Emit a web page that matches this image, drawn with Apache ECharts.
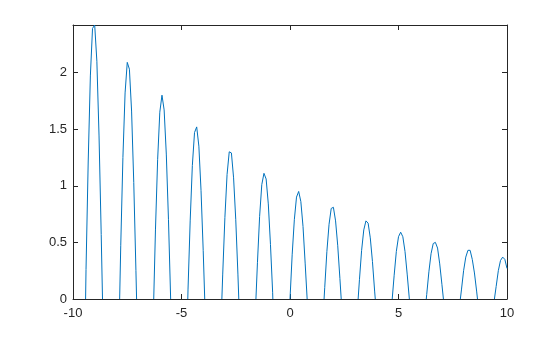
<!DOCTYPE html>
<html>
<head>
<meta charset="utf-8">
<script src="https://cdn.jsdelivr.net/npm/echarts@6/dist/echarts.min.js"></script>
<style>
html,body{margin:0;padding:0;background:#fff;}
#chart{width:560px;height:337px;}
</style>
</head>
<body>
<div id="chart"></div>
<script>
// x positions of samples (null y marks a gap between humps)
var xValues = [
  -9.42,-9.4,-9.3,-9.2,-9.1,-9.0,-8.9,-8.8,-8.7,-8.64, -8.2,
  -7.85,-7.8,-7.7,-7.6,-7.5,-7.4,-7.3,-7.2,-7.1,-7.07, -6.7,
  -6.28,-6.2,-6.1,-6.0,-5.9,-5.8,-5.7,-5.6,-5.5, -5.1,
  -4.71,-4.7,-4.6,-4.5,-4.4,-4.3,-4.2,-4.1,-4.0,-3.93, -3.5,
  -3.14,-3.1,-3.0,-2.9,-2.8,-2.7,-2.6,-2.5,-2.4,-2.36, -2.0,
  -1.57,-1.5,-1.4,-1.3,-1.2,-1.1,-1.0,-0.9,-0.8,-0.79, -0.4,
  0,0.1,0.2,0.3,0.4,0.5,0.6,0.7,0.79, 1.2,
  1.57,1.6,1.7,1.8,1.9,2.0,2.1,2.2,2.3,2.36, 2.7,
  3.14,3.2,3.3,3.4,3.5,3.6,3.7,3.8,3.9,3.93, 4.3,
  4.71,4.8,4.9,5.0,5.1,5.2,5.3,5.4,5.5, 5.9,
  6.28,6.3,6.4,6.5,6.6,6.7,6.8,6.9,7.0,7.07, 7.5,
  7.85,7.9,8.0,8.1,8.2,8.3,8.4,8.5,8.6,8.64, 9.0,
  9.42,9.5,9.6,9.7,9.8,9.9,10.0
];
var yValues = [
  0,0.26,1.21,1.97,2.39,2.42,2.10,1.44,0.57,0, null,
  0,0.47,1.25,1.82,2.09,2.03,1.66,1.03,0.25,0, null,
  0,0.61,1.23,1.65,1.80,1.67,1.28,0.70,0, null,
  0,0.08,0.69,1.18,1.47,1.52,1.35,0.96,0.43,0, null,
  0,0.22,0.72,1.10,1.30,1.29,1.07,0.70,0.22,0, null,
  0,0.32,0.73,1.01,1.11,1.06,0.84,0.48,0.06,0, null,
  0,0.39,0.70,0.90,0.95,0.86,0.64,0.31,0, null,
  0,0.10,0.42,0.66,0.80,0.81,0.69,0.47,0.18,0, null,
  0,0.17,0.43,0.61,0.69,0.67,0.54,0.33,0.07,0, null,
  0,0.21,0.42,0.55,0.59,0.55,0.42,0.22,0, null,
  0,0.04,0.24,0.40,0.49,0.50,0.45,0.31,0.13,0, null,
  0,0.08,0.25,0.37,0.43,0.43,0.35,0.23,0.07,0, null,
  0,0.11,0.25,0.34,0.37,0.35,0.27
];
var xTicks = [-10, -5, 0, 5, 10];
var yTicks = [0, 0.5, 1, 1.5, 2];
var yMax = 2.42;

var seriesData = xValues.map(function (x, i) {
  return [x, yValues[i] === null ? '-' : yValues[i]];
});

var axisCol = '#262626';
var labelFont = {color: axisCol, fontSize: 13, fontFamily: 'Liberation Sans, Arial, sans-serif'};

var chart = echarts.init(document.getElementById('chart'), null, {renderer: 'canvas'});
chart.setOption({
  animation: false,
  backgroundColor: '#fff',
  grid: {left: 73, right: 53, top: 25, bottom: 38, containLabel: false},
  xAxis: [{
    type: 'value', min: xTicks[0], max: xTicks[xTicks.length - 1], interval: 5,
    position: 'bottom',
    axisLine: {onZero: false, lineStyle: {color: axisCol, width: 1}},
    axisTick: {inside: true, length: 5, lineStyle: {color: axisCol}},
    axisLabel: Object.assign({margin: 8, formatter: function (v) { return String(v); }}, labelFont),
    splitLine: {show: false}
  }, {
    type: 'value', min: xTicks[0], max: xTicks[xTicks.length - 1], interval: 5,
    position: 'top',
    axisLine: {onZero: false, lineStyle: {color: axisCol, width: 1}},
    axisTick: {inside: true, length: 5, lineStyle: {color: axisCol}},
    axisLabel: {show: false},
    splitLine: {show: false}
  }],
  yAxis: [{
    type: 'value', min: yTicks[0], max: yMax, interval: 0.5,
    position: 'left',
    axisLine: {show: true, onZero: false, lineStyle: {color: axisCol, width: 1}},
    axisTick: {show: true, inside: true, length: 5, lineStyle: {color: axisCol}},
    axisLabel: Object.assign({margin: 6, showMaxLabel: false,
      formatter: function (v) { return yTicks.indexOf(v) >= 0 ? String(v) : ''; }}, labelFont),
    splitLine: {show: false}
  }, {
    type: 'value', min: yTicks[0], max: yMax, interval: 0.5,
    position: 'right',
    axisLine: {show: true, onZero: false, lineStyle: {color: axisCol, width: 1}},
    axisTick: {show: true, inside: true, length: 5, lineStyle: {color: axisCol}},
    axisLabel: {show: false},
    splitLine: {show: false}
  }],
  series: [{
    type: 'line',
    xAxisIndex: 0, yAxisIndex: 0,
    data: seriesData,
    showSymbol: false,
    symbol: 'none',
    connectNulls: false,
    clip: true,
    lineStyle: {color: '#0072BD', width: 1},
    z: 3
  }]
});
</script>
</body>
</html>
